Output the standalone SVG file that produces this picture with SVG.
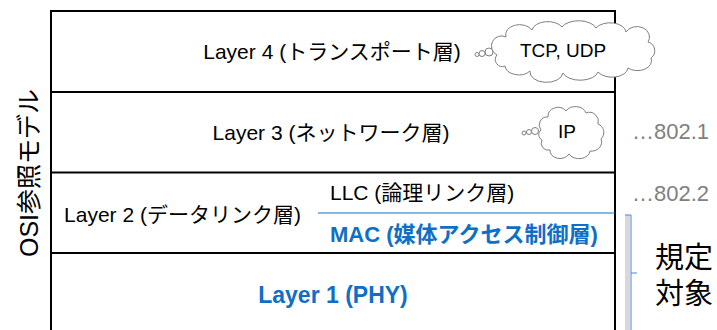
<svg xmlns="http://www.w3.org/2000/svg" width="717" height="330" viewBox="0 0 717 330">
<style>
.t{font-family:"Liberation Sans","Noto Sans CJK JP",sans-serif;fill:#000}
.b{font-family:"Liberation Sans","Noto Sans CJK JP",sans-serif;fill:#0F6FC6;font-weight:bold}
.g{font-family:"Liberation Sans","Noto Sans CJK JP",sans-serif;fill:#808080}
.line{stroke:#000;stroke-width:2;fill:none}
.cloud{fill:#fff;stroke:#7f7f7f;stroke-width:1}
</style>
<rect width="717" height="330" fill="#fff"/>
<g id="frame">
<path class="line" d="M51,332 V11 H615 V332"/>
</g>
<g id="connectors">
<line x1="51" y1="92" x2="615" y2="92" stroke="#000" stroke-width="2"/>
<line x1="51" y1="172.5" x2="615" y2="172.5" stroke="#000" stroke-width="2"/>
<line x1="51" y1="253" x2="615" y2="253" stroke="#000" stroke-width="2"/>
<line x1="318" y1="213" x2="615" y2="213" stroke="#0F6FC6" stroke-width="1"/>
</g>
<g id="osi-label">
<text class="t" font-size="25" text-anchor="middle" transform="translate(38,173) rotate(-90)">OSI参照モデル</text>
</g>
<g id="layer4">
<text class="t" font-size="21" x="332" y="59" text-anchor="middle">Layer 4 (トランスポート層)</text>
</g>
<g id="cloud-tcp">
<circle class="cloud" cx="489" cy="52" r="4"/>
<circle class="cloud" cx="482" cy="53.5" r="3"/>
<circle class="cloud" cx="477" cy="54.5" r="2"/>
<path class="cloud" d="M497,55 A9,9 0 0 1 506,37 A14,10 0 0 1 532,30 A16,10 0 0 1 562,27 A18,10 0 0 1 596,28 A16,10 0 0 1 626,32 A12,10 0 0 1 648,42 A9,9 0 0 1 651,58 A14,10 0 0 1 628,68 A16,10 0 0 1 598,72 A18,10 0 0 1 563,73 A16,10 0 0 1 530,71 A14,10 0 0 1 505,66 A7,7 0 0 1 497,55 Z"/>
<text class="t" font-size="19" x="563" y="57" text-anchor="middle">TCP, UDP</text>
</g>
<g id="layer3">
<text class="t" font-size="21" x="331" y="140" text-anchor="middle">Layer 3 (ネットワーク層)</text>
</g>
<g id="cloud-ip">
<circle class="cloud" cx="535" cy="131" r="3.5"/>
<circle class="cloud" cx="529" cy="132" r="2.5"/>
<circle class="cloud" cx="524" cy="133" r="2"/>
<path class="cloud" d="M541,130 A8,8 0 0 1 548,117 A10,9 0 0 1 566,111 A11,9 0 0 1 586,113 A9,9 0 0 1 598,124 A9,9 0 0 1 601,139 A10,9 0 0 1 590,151 A11,8 0 0 1 569,154 A10,8 0 0 1 550,150 A7,7 0 0 1 542,140 A6,6 0 0 1 541,130 Z"/>
<text class="t" font-size="19" x="567" y="138" text-anchor="middle">IP</text>
</g>
<g id="layer2">
<text class="t" font-size="21" x="182.5" y="222" text-anchor="middle">Layer 2 (データリンク層)</text>
</g>
<g id="llc">
<text class="t" font-size="21" x="330" y="200">LLC (論理リンク層)</text>
</g>
<g id="mac">
<text class="b" font-size="22" x="330" y="242">MAC (媒体アクセス制御層)</text>
</g>
<g id="layer1">
<text class="b" font-size="23" x="333" y="303" text-anchor="middle">Layer 1 (PHY)</text>
</g>
<g id="ieee">
<text class="g" font-size="22" x="632" y="139">…802.1</text>
<text class="g" font-size="22" x="632" y="201">…802.2</text>
</g>
<g id="scope">
<rect x="625" y="215" width="5" height="120" fill="#d9d9d9"/>
<path d="M625,215 H631 V335 M631,273 H637" fill="none" stroke="#4a86d8" stroke-width="1"/>
<text class="t" font-size="29" x="655" y="268">規定</text>
<text class="t" font-size="29" x="655" y="304">対象</text>
</g>
</svg>
